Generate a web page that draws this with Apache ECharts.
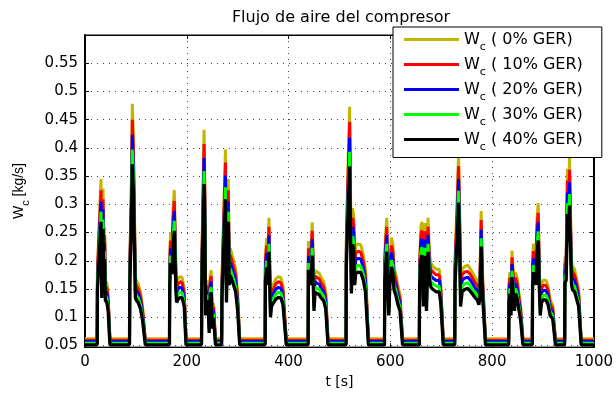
<!DOCTYPE html>
<html>
<head>
<meta charset="utf-8">
<script src="https://cdn.jsdelivr.net/npm/echarts@6/dist/echarts.min.js"></script>
<style>
html,body{margin:0;padding:0;background:#fff;}
#c{width:616px;height:394px;}
</style>
</head>
<body>
<div id="c"></div>
<script>
// time [s]
const t = [0,
24,24.5,28,31.5,33,35.5,37,38.5,40,43,45.5,49,
87.5,88,91,93,95,97,99,101,105,109,113,118.5,
166,166.5,168,171,173,175.5,177,178.5,180,183,187,191,195,198.5,
229,229.5,232,234,235.5,237,239,242,244,246,248,250,252.5,256.5,
268.5,269,271.5,273,276,278,280,281.5,283.5,285.5,289,292,296,300,304,
354,354.5,357,359,361.5,363,364.5,366.5,370,375,380,385,389,395.5,
438.5,439,441,443,446.5,448.5,450,452,456,460,464,469,473,477.5,
513,513.5,516,520,522,523.5,526,528,530,532,537,542,547,551,557,
588.5,589,591,593,595,597,599,602,605,607,611,615,619,624,
657,657.5,660,662,665,668,671,674,677,680,684,690,696,699,704,
726.5,727,729,731,734,736,738,741,746,752,757,762,767,771,774,776,778.5,781,787,
832.5,833,835,837,839,842,844,846,849,853,856,860.5,
879,879.5,881,884,886,888,890.5,892.5,894.5,897,901,906,910,914,919,924.5,
942.5,943,945.5,948,950,952,954,956,958,962,966,970,975,
1000];

// W_c (0% GER)
const w0 = [0.062,
0.062,0.19,0.27,0.345,0.17,0.328,0.2,0.26,0.165,0.16,0.14,0.062,
0.062,0.2,0.33,0.478,0.42,0.3,0.17,0.165,0.158,0.145,0.12,0.062,
0.062,0.2,0.25,0.225,0.29,0.325,0.26,0.19,0.16,0.168,0.172,0.17,0.15,0.062,
0.062,0.2,0.33,0.432,0.33,0.13,0.165,0.15,0.09,0.175,0.183,0.1,0.125,0.062,
0.062,0.165,0.165,0.3,0.397,0.16,0.3,0.345,0.2,0.222,0.222,0.2,0.185,0.14,0.062,
0.062,0.21,0.24,0.2,0.276,0.2,0.126,0.15,0.158,0.168,0.172,0.17,0.155,0.062,
0.062,0.235,0.235,0.2,0.268,0.2,0.14,0.183,0.18,0.178,0.17,0.163,0.145,0.062,
0.062,0.24,0.337,0.473,0.3,0.18,0.293,0.28,0.2,0.227,0.23,0.228,0.21,0.185,0.062,
0.062,0.21,0.25,0.276,0.18,0.13,0.2,0.241,0.23,0.19,0.175,0.155,0.14,0.062,
0.062,0.2,0.26,0.269,0.15,0.267,0.14,0.276,0.21,0.195,0.19,0.185,0.185,0.16,0.062,
0.062,0.2,0.2,0.3,0.39,0.3,0.15,0.185,0.19,0.192,0.186,0.178,0.17,0.165,0.155,0.17,0.288,0.18,0.062,
0.062,0.16,0.18,0.13,0.218,0.22,0.14,0.18,0.17,0.14,0.12,0.062,
0.062,0.2,0.23,0.23,0.2,0.27,0.302,0.2,0.13,0.16,0.166,0.165,0.155,0.13,0.122,0.062,
0.062,0.205,0.21,0.363,0.3,0.383,0.29,0.2,0.19,0.185,0.168,0.15,0.062,
0.062];

// W_c (10% GER)
const w10 = [0.059,
0.059,0.180,0.255,0.325,0.161,0.309,0.189,0.245,0.156,0.151,0.133,0.059,
0.059,0.189,0.311,0.450,0.396,0.283,0.161,0.156,0.149,0.137,0.114,0.059,
0.059,0.189,0.236,0.212,0.274,0.306,0.245,0.180,0.151,0.159,0.163,0.161,0.142,0.059,
0.059,0.189,0.311,0.407,0.311,0.123,0.156,0.142,0.086,0.165,0.173,0.095,0.118,0.059,
0.059,0.156,0.156,0.283,0.374,0.151,0.283,0.325,0.189,0.210,0.210,0.189,0.175,0.133,0.059,
0.059,0.198,0.227,0.189,0.260,0.189,0.119,0.142,0.149,0.159,0.163,0.161,0.147,0.059,
0.059,0.222,0.222,0.189,0.253,0.189,0.133,0.173,0.170,0.168,0.161,0.154,0.137,0.059,
0.059,0.227,0.318,0.446,0.283,0.170,0.276,0.264,0.189,0.214,0.217,0.215,0.198,0.175,0.059,
0.059,0.198,0.236,0.260,0.170,0.123,0.189,0.227,0.217,0.180,0.165,0.147,0.133,0.059,
0.059,0.189,0.245,0.254,0.142,0.252,0.133,0.260,0.198,0.184,0.180,0.175,0.175,0.151,0.059,
0.059,0.189,0.189,0.283,0.368,0.283,0.142,0.175,0.180,0.181,0.176,0.168,0.161,0.156,0.147,0.161,0.272,0.170,0.059,
0.059,0.151,0.170,0.123,0.206,0.208,0.133,0.170,0.161,0.133,0.114,0.059,
0.059,0.189,0.217,0.217,0.189,0.255,0.285,0.189,0.123,0.151,0.157,0.156,0.147,0.123,0.116,0.059,
0.059,0.194,0.198,0.342,0.283,0.361,0.274,0.189,0.180,0.175,0.159,0.142,0.059,
0.059];

// W_c (20% GER)
const w20 = [0.057,
0.057,0.169,0.239,0.305,0.151,0.291,0.178,0.231,0.147,0.143,0.125,0.057,
0.057,0.178,0.292,0.423,0.371,0.266,0.151,0.147,0.141,0.129,0.107,0.057,
0.057,0.178,0.222,0.200,0.257,0.288,0.231,0.169,0.143,0.150,0.153,0.151,0.134,0.057,
0.057,0.178,0.292,0.382,0.292,0.116,0.147,0.134,0.081,0.156,0.163,0.090,0.112,0.057,
0.057,0.147,0.147,0.266,0.351,0.143,0.266,0.305,0.178,0.197,0.197,0.178,0.165,0.125,0.057,
0.057,0.187,0.213,0.178,0.245,0.178,0.113,0.134,0.141,0.150,0.153,0.151,0.138,0.057,
0.057,0.209,0.209,0.178,0.238,0.178,0.125,0.163,0.160,0.159,0.151,0.145,0.129,0.057,
0.057,0.213,0.298,0.418,0.266,0.160,0.260,0.248,0.178,0.202,0.204,0.203,0.187,0.165,0.057,
0.057,0.187,0.222,0.245,0.160,0.116,0.178,0.214,0.204,0.169,0.156,0.138,0.125,0.057,
0.057,0.178,0.231,0.239,0.134,0.237,0.125,0.245,0.187,0.173,0.169,0.165,0.165,0.143,0.057,
0.057,0.178,0.178,0.266,0.345,0.266,0.134,0.165,0.169,0.171,0.166,0.159,0.151,0.147,0.138,0.151,0.255,0.160,0.057,
0.057,0.143,0.160,0.116,0.194,0.195,0.125,0.160,0.151,0.125,0.107,0.057,
0.057,0.178,0.204,0.204,0.178,0.239,0.268,0.178,0.116,0.143,0.148,0.147,0.138,0.116,0.109,0.057,
0.057,0.182,0.187,0.321,0.266,0.339,0.257,0.178,0.169,0.165,0.150,0.134,0.057,
0.057];

// W_c (30% GER)
const w30 = [0.054,
0.054,0.159,0.225,0.287,0.143,0.273,0.167,0.217,0.139,0.134,0.118,0.054,
0.054,0.167,0.275,0.397,0.349,0.250,0.143,0.139,0.133,0.122,0.101,0.054,
0.054,0.167,0.209,0.188,0.242,0.271,0.217,0.159,0.134,0.141,0.144,0.143,0.126,0.054,
0.054,0.167,0.275,0.359,0.275,0.110,0.139,0.126,0.077,0.147,0.153,0.085,0.106,0.054,
0.054,0.139,0.139,0.250,0.330,0.134,0.250,0.287,0.167,0.186,0.186,0.167,0.155,0.118,0.054,
0.054,0.176,0.200,0.167,0.230,0.167,0.106,0.126,0.133,0.141,0.144,0.143,0.130,0.054,
0.054,0.196,0.196,0.167,0.223,0.167,0.118,0.153,0.151,0.149,0.143,0.137,0.122,0.054,
0.054,0.200,0.280,0.393,0.250,0.151,0.244,0.233,0.167,0.190,0.192,0.190,0.176,0.155,0.054,
0.054,0.176,0.209,0.230,0.151,0.110,0.167,0.201,0.192,0.159,0.147,0.130,0.118,0.054,
0.054,0.167,0.217,0.224,0.126,0.223,0.118,0.230,0.176,0.163,0.159,0.155,0.155,0.134,0.054,
0.054,0.167,0.167,0.250,0.324,0.250,0.126,0.155,0.159,0.161,0.156,0.149,0.143,0.139,0.130,0.143,0.240,0.151,0.054,
0.054,0.134,0.151,0.110,0.182,0.184,0.118,0.151,0.143,0.118,0.101,0.054,
0.054,0.167,0.192,0.192,0.167,0.225,0.252,0.167,0.110,0.134,0.139,0.139,0.130,0.110,0.103,0.054,
0.054,0.172,0.176,0.302,0.250,0.318,0.242,0.167,0.159,0.155,0.141,0.126,0.054,
0.054];

// W_c (40% GER)
const w40 = [0.051,
0.051,0.149,0.211,0.269,0.134,0.256,0.157,0.203,0.130,0.126,0.111,0.051,
0.051,0.157,0.257,0.371,0.326,0.234,0.134,0.130,0.125,0.115,0.095,0.051,
0.051,0.157,0.196,0.176,0.226,0.253,0.203,0.149,0.126,0.132,0.135,0.134,0.119,0.051,
0.051,0.157,0.257,0.336,0.257,0.103,0.130,0.119,0.072,0.138,0.144,0.080,0.099,0.051,
0.051,0.130,0.130,0.234,0.309,0.126,0.234,0.269,0.157,0.174,0.174,0.157,0.145,0.111,0.051,
0.051,0.165,0.188,0.157,0.216,0.157,0.100,0.119,0.125,0.132,0.135,0.134,0.122,0.051,
0.051,0.184,0.184,0.157,0.209,0.157,0.111,0.144,0.142,0.140,0.134,0.129,0.115,0.051,
0.051,0.188,0.262,0.367,0.234,0.142,0.229,0.219,0.157,0.178,0.180,0.179,0.165,0.145,0.051,
0.051,0.165,0.196,0.216,0.142,0.103,0.157,0.189,0.180,0.149,0.138,0.122,0.111,0.051,
0.051,0.157,0.203,0.210,0.119,0.209,0.111,0.216,0.165,0.153,0.149,0.145,0.145,0.126,0.051,
0.051,0.157,0.157,0.234,0.303,0.234,0.119,0.145,0.149,0.151,0.146,0.140,0.134,0.130,0.122,0.134,0.225,0.142,0.051,
0.051,0.126,0.142,0.103,0.171,0.172,0.111,0.142,0.134,0.111,0.095,0.051,
0.051,0.157,0.180,0.180,0.157,0.211,0.236,0.157,0.103,0.126,0.131,0.130,0.122,0.103,0.097,0.051,
0.051,0.161,0.165,0.283,0.234,0.298,0.226,0.157,0.149,0.145,0.132,0.119,0.051,
0.051];

const seriesNames = ['0% GER', '10% GER', '20% GER', '30% GER', '40% GER'];
const seriesData = [w0, w10, w20, w30, w40];
const xTickStep = 200;
const titleText = 'Flujo de aire del compresor';

const colors = ['#c2b600', '#ff0000', '#0000ff', '#00ff00', '#000000'];
const FONT = 'DejaVu Sans';

const chart = echarts.init(document.getElementById('c'), null, {renderer: 'canvas'});

const series = seriesData.map((arr, i) => ({
  name: seriesNames[i],
  type: 'line',
  data: t.map((x, j) => [x, arr[j]]),
  showSymbol: false,
  symbol: 'none',
  animation: false,
  emphasis: {disabled: true},
  lineStyle: {width: i === 4 ? 3.3 : 3, color: colors[i]},
  itemStyle: {color: colors[i]},
  z: 2 + i
}));

const gridDots = {show: true, lineStyle: {color: '#444', type: [1, 5], width: 1}};

chart.setOption({
  animation: false,
  backgroundColor: '#fff',
  title: {
    text: titleText,
    left: 341,
    top: 10,
    textAlign: 'center',
    padding: 0,
    textStyle: {fontFamily: FONT, fontSize: 16, fontWeight: 'normal', color: '#000'}
  },
  grid: {left: 85, right: 19, top: 35, bottom: 40, show: true, borderColor: '#000', borderWidth: 1, backgroundColor: '#fff'},
  legend: {
    orient: 'vertical',
    left: 393,
    top: 27,
    padding: [4.5, 19, 4.5, 11],
    icon: 'rect',
    itemWidth: 55,
    itemHeight: 3,
    itemGap: 3.5,
    backgroundColor: '#fff',
    borderColor: '#000',
    borderWidth: 1,
    data: seriesNames,
    formatter: name => '{w|W}{s|c}{t| ( ' + name + ')}',
    textStyle: {
      fontFamily: FONT,
      color: '#000',
      rich: {
        w: {fontFamily: FONT, fontSize: 16, lineHeight: 16, verticalAlign: 'top', color: '#000'},
        s: {fontFamily: FONT, fontSize: 11, lineHeight: 11, verticalAlign: 'top', padding: [10.5, 0, 0, 0], color: '#000'},
        t: {fontFamily: FONT, fontSize: 16, lineHeight: 16, verticalAlign: 'top', color: '#000'}
      }
    }
  },
  xAxis: [{
    type: 'value', min: 0, max: 1000, interval: xTickStep, position: 'bottom',
    axisLine: {show: true, onZero: false, lineStyle: {color: '#000', width: 1}},
    axisTick: {show: true, inside: true, length: 4, lineStyle: {color: '#000'}},
    axisLabel: {color: '#000', fontFamily: FONT, fontSize: 15, margin: 8, formatter: v => String(v)},
    splitLine: gridDots,
    name: 't [s]', nameLocation: 'middle', nameGap: 24,
    nameTextStyle: {color: '#000', fontFamily: FONT, fontSize: 14}
  }, {
    type: 'value', min: 0, max: 1000, interval: xTickStep, position: 'top',
    axisLine: {show: true, onZero: false, lineStyle: {color: '#000', width: 1}},
    axisTick: {show: true, inside: true, length: 4, lineStyle: {color: '#000'}},
    axisLabel: {show: false}, splitLine: {show: false}
  }],
  yAxis: [{
    type: 'value', min: 0.047, max: 0.6, splitNumber: 11, position: 'left',
    axisLine: {show: true, onZero: false, lineStyle: {color: '#000', width: 2}},
    axisTick: {show: true, inside: true, length: 4, lineStyle: {color: '#000'}},
    axisLabel: {
      color: '#000', fontFamily: FONT, fontSize: 15, margin: 7,
      formatter: v => {
        const k = v * 20;
        if (Math.abs(k - Math.round(k)) > 1e-6 || v > 0.58) return '';
        return String(Number(v.toFixed(2)));
      }
    },
    splitLine: gridDots,
    name: '{w|W}{s|c}{t| [kg/s]}', nameLocation: 'middle', nameGap: 59,
    nameTextStyle: {
      color: '#000', fontFamily: 'Liberation Sans', fontSize: 14,
      rich: {
        w: {fontFamily: 'Liberation Sans', fontSize: 14, lineHeight: 14, verticalAlign: 'top', color: '#000'},
        s: {fontFamily: 'Liberation Sans', fontSize: 11, lineHeight: 11, verticalAlign: 'top', padding: [8, 0, 0, 0], color: '#000'},
        t: {fontFamily: 'Liberation Sans', fontSize: 14, lineHeight: 14, verticalAlign: 'top', color: '#000'}
      }
    }
  }, {
    type: 'value', min: 0.047, max: 0.6, splitNumber: 11, position: 'right',
    axisLine: {show: true, onZero: false, lineStyle: {color: '#000', width: 2}},
    axisTick: {show: true, inside: true, length: 4, lineStyle: {color: '#000'}},
    axisLabel: {show: false}, splitLine: {show: false}
  }],
  series: series
});
</script>
</body>
</html>
